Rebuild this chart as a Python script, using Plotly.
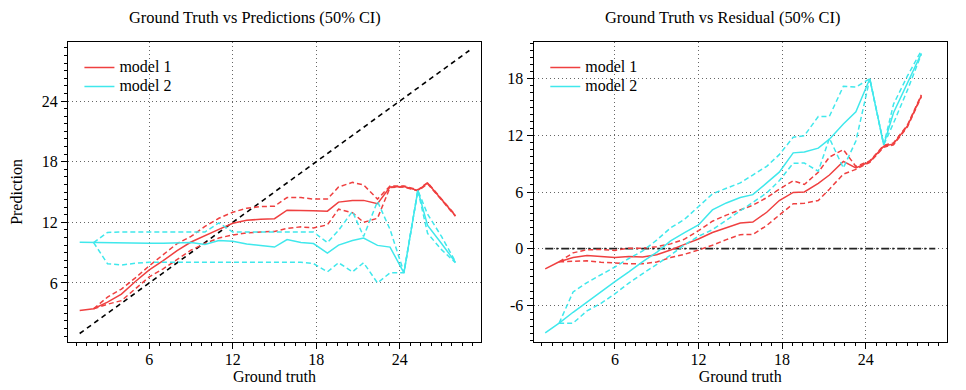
import plotly.graph_objects as go

# ---------------- data ----------------
ground_truth = [1, 2, 3, 4, 5, 6, 7, 8, 9, 10, 11, 12, 13, 14, 15, 15.9, 16.9, 17.8, 18.8, 19.6,
                20.6, 21.4, 22.4, 23.3, 24.3, 25.3, 26.0, 27.0, 28.0]

# Predictions (left panel)
m1_pred = [3.27, 3.45, 4.1, 4.9, 6.15, 7.3, 8.2, 9.2, 10.05, 10.7, 11.3, 11.9, 12.2, 12.3, 12.36,
           13.2, 13.2, 13.15, 13.1, 14.0, 14.15, 14.17, 13.85, 15.5, 15.55, 15.16, 15.89, 14.3, 12.66]
m1_pred_hi = [None, 3.45, 4.6, 5.4, 6.5, 7.7, 8.8, 9.9, 10.6, 11.6, 12.4, 13.0, 13.4, 13.55, 13.6,
              14.45, 14.45, 14.3, 14.3, 15.5, 15.95, 15.7, 14.3, 15.6, 15.6, 15.22, 15.93, 14.35, 12.7]
m1_pred_lo = [None, 3.45, 3.9, 4.25, 5.4, 6.6, 7.4, 8.35, 9.25, 9.9, 10.45, 10.75, 10.95, 11.05, 11.1,
              11.4, 11.55, 11.45, 11.75, 13.3, 12.95, 12.0, 12.4, 15.45, 15.5, 15.1, 15.82, 14.22, 12.6]

m2_pred = [10.02, 10.0, 9.92, 9.9, 9.95, 9.93, 9.93, 9.95, 10.0, 9.8, 10.2, 10.12, 9.85, 9.7, 9.55,
           10.3, 10.0, 9.9, 8.95, 9.75, 10.2, 10.45, 9.72, 9.55, 7.0, 15.16, 11.7, 9.9, 8.05]
m2_pred_hi = [None, 10.0, 11.0, 11.04, 11.04, 11.04, 11.04, 11.04, 11.04, 11.04, 11.95, 11.04, 11.04,
              11.04, 11.04, 11.04, 11.04, 11.04, 10.0, 11.2, 13.08, 10.6, 14.07, 11.3, 7.05, 15.16,
              12.8, 10.6, 8.1]
m2_pred_lo = [None, 10.0, 7.9, 7.78, 7.95, 8.04, 8.04, 8.04, 8.04, 8.04, 8.04, 8.04, 8.04, 8.04, 8.04,
              8.04, 8.04, 7.92, 7.1, 8.0, 7.1, 8.0, 6.0, 7.0, 7.0, 15.16, 10.9, 9.3, 8.0]

ideal_line = [1, 29]

# Residuals (right panel)
m1_res = [-2.15, -1.4, -0.95, -0.74, -0.83, -0.93, -0.84, -0.88, -0.65, -0.15, 0.45, 1.02, 1.7, 2.25,
          2.72, 2.82, 3.85, 5.1, 5.95, 6.0, 6.92, 7.8, 9.25, 8.55, 9.22, 10.85, 11.1, 13.0, 16.2]
m1_res_hi = [None, -1.4, -0.45, -0.12, -0.1, -0.2, 0.05, 0.05, 0.2, 0.5, 1.0, 1.9, 2.9, 3.55, 4.1,
             4.6, 5.4, 6.3, 7.2, 6.8, 8.1, 9.7, 10.5, 8.7, 9.3, 10.95, 11.2, 13.1, 16.3]
m1_res_lo = [None, -1.4, -1.38, -1.3, -1.45, -1.55, -1.6, -1.6, -1.42, -0.95, -0.6, -0.15, 0.35, 0.95,
             1.48, 1.5, 2.45, 3.55, 4.75, 4.8, 5.1, 6.3, 7.9, 8.4, 9.15, 10.75, 11.0, 12.9, 16.1]

m2_res = [-8.93, -7.9, -6.75, -5.65, -4.63, -3.5, -2.47, -1.38, -0.39, 0.81, 1.7, 2.5, 4.1, 4.84,
          5.42, 5.72, 6.96, 8.1, 10.15, 10.25, 10.65, 11.6, 13.2, 14.5, 18.0, 11.0, 14.4, 17.6, 20.7]
m2_res_hi = [None, -7.9, -4.6, -3.6, -2.8, -1.95, -1.05, -0.25, 0.9, 2.2, 3.1, 4.5, 5.8, 6.4, 6.96,
             7.8, 8.72, 9.96, 11.8, 11.97, 14.0, 14.02, 17.2, 17.13, 18.0, 11.0, 15.3, 18.3, 21.0]
m2_res_lo = [None, -7.9, -7.9, -6.6, -5.8, -4.8, -3.65, -2.65, -1.65, -0.7, 0.4, 1.3, 2.0, 3.0, 4.0,
             4.9, 5.9, 7.2, 9.05, 9.07, 8.2, 11.7, 8.55, 11.4, 18.0, 11.0, 13.3, 16.8, 20.6]

zero_line = [0, 0]

x_ticks = [6, 12, 18, 24]
y1_ticks = [6, 12, 18, 24]
y2_ticks = [-6, 0, 6, 12, 18]
y2_tick_labels = ["-6", "0", "6", "12", "18"]

titles = ["Ground Truth vs Predictions (50% CI)", "Ground Truth vs Residual (50% CI)"]
model_names = ["model 1", "model 2"]

# ---------------- style ----------------
RED = "#ef4040"
CYAN = "#40e8ec"
FONT = "Liberation Serif"
CI_DASH = "5px,3px"

fig = go.Figure()


def add_model(xa, ya, x, mid, lo, hi, color, name, legend, showlegend):
    fig.add_trace(go.Scatter(x=x, y=mid, mode="lines", line=dict(color=color, width=1.5),
                             name=name, legend=legend, showlegend=showlegend,
                             xaxis=xa, yaxis=ya))
    for band in (lo, hi):
        fig.add_trace(go.Scatter(x=x, y=band, mode="lines",
                                 line=dict(color=color, width=1.5, dash=CI_DASH),
                                 showlegend=False, connectgaps=False, xaxis=xa, yaxis=ya))


def legend_name(n):
    return "<span style='font-size:16px'>" + n + "</span>"


# left panel
fig.add_trace(go.Scatter(x=ideal_line, y=ideal_line, mode="lines",
                         line=dict(color="black", width=1.6, dash="5px,4px"),
                         showlegend=False, xaxis="x", yaxis="y"))
add_model("x", "y", ground_truth, m1_pred, m1_pred_lo, m1_pred_hi, RED, legend_name(model_names[0]), "legend", True)
add_model("x", "y", ground_truth, m2_pred, m2_pred_lo, m2_pred_hi, CYAN, legend_name(model_names[1]), "legend", True)

# right panel
fig.add_trace(go.Scatter(x=ideal_line, y=zero_line, mode="lines",
                         line=dict(color="#222222", width=1.8, dash="8px,3px,2px,3px"),
                         showlegend=False, xaxis="x2", yaxis="y2"))
add_model("x2", "y2", ground_truth, m1_res, m1_res_lo, m1_res_hi, RED, legend_name(model_names[0]), "legend2", True)
add_model("x2", "y2", ground_truth, m2_res, m2_res_lo, m2_res_hi, CYAN, legend_name(model_names[1]), "legend2", True)

tickfont = dict(family=FONT, size=16, color="black")


def axis(rng, domain, tickvals=None, ticktext=None, anchor=None, title=None, standoff=4,
         labelshift=0):
    d = dict(range=rng, domain=domain, anchor=anchor, automargin=False,
             ticks="outside", ticklen=6, tickwidth=1, tickcolor="black",
             showline=True, linecolor="black", linewidth=1, mirror=True,
             showgrid=True, gridcolor="#666666", griddash="1px,3px", gridwidth=1,
             zeroline=False, tickfont=tickfont, ticklabelstandoff=labelshift,
             minor=dict(dtick=0.75, tick0=0, ticks="outside", ticklen=3,
                        tickcolor="black", tickwidth=1, showgrid=False))
    if tickvals is not None:
        d["tickmode"] = "array"
        d["tickvals"] = tickvals
        d["ticktext"] = ticktext if ticktext is not None else [str(v) for v in tickvals]
    if title is not None:
        d["title"] = dict(text=title, font=dict(family=FONT, size=16, color="black"),
                          standoff=standoff)
    return d


# The page body adds an 8px margin, so the figure is 8px smaller than the window.
W, H = 958, 382
XR = [0.16, 29.84]
fig.update_layout(
    width=W, height=H,
    margin=dict(l=60, r=19, t=34, b=48, autoexpand=False),
    paper_bgcolor="white", plot_bgcolor="white",
    font=dict(family=FONT, size=16, color="black"),
    xaxis=axis(XR, [0, 0.4699], x_ticks, anchor="y", title="Ground truth", standoff=2, labelshift=-3),
    yaxis=axis([0.16, 29.84], [0, 1], y1_ticks, anchor="x", title="Prediction", standoff=15),
    xaxis2=axis(XR, [0.5296, 1], x_ticks, anchor="y2", title="Ground truth", standoff=2, labelshift=-3),
    yaxis2=axis([-9.9, 21.9], [0, 1], y2_ticks, y2_tick_labels, anchor="x2"),
    legend=dict(x=0.013, y=0.963, xanchor="left", yanchor="top", bgcolor="rgba(0,0,0,0)",
                font=dict(family=FONT, size=12, color="black"), borderwidth=0),
    legend2=dict(x=0.543, y=0.963, xanchor="left", yanchor="top", bgcolor="rgba(0,0,0,0)",
                 font=dict(family=FONT, size=12, color="black"), borderwidth=0),
    showlegend=True,
    annotations=[
        dict(text=titles[0], x=0.2127, y=1.08, xref="paper", yref="paper",
             showarrow=False, xanchor="center", yanchor="middle",
             font=dict(family=FONT, size=16.4, color="black")),
        dict(text=titles[1], x=0.7444, y=1.08, xref="paper", yref="paper",
             showarrow=False, xanchor="center", yanchor="middle",
             font=dict(family=FONT, size=16.4, color="black")),
    ],
)

fig.write_html("out.html")
